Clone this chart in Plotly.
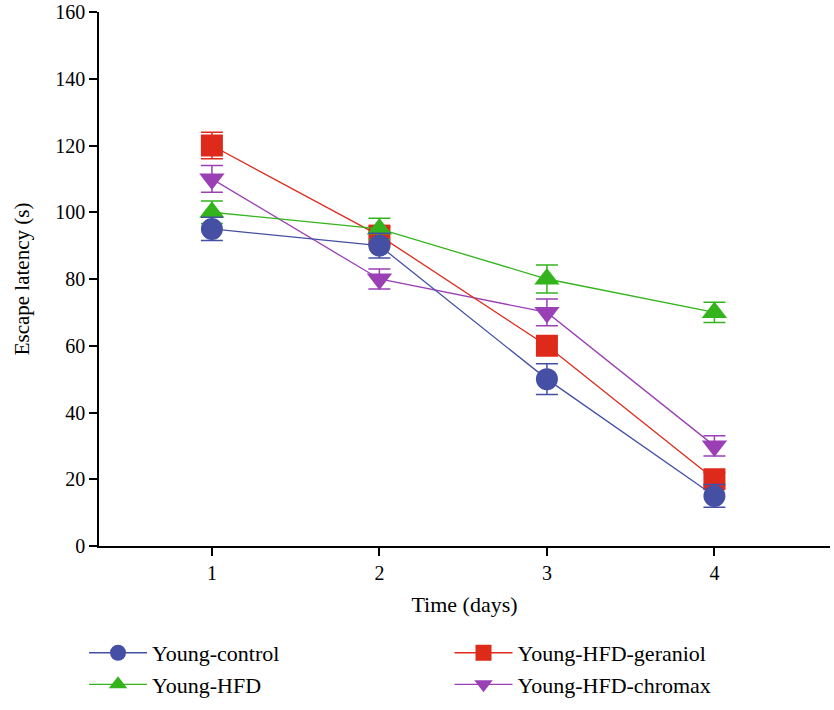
import plotly.graph_objects as go

days = [1, 2, 3, 4]

control = [95, 90, 50, 15]
control_err = [3.5, 3.7, 4.6, 3.4]
hfd = [100, 95, 80, 70]
hfd_err = [3.4, 3.2, 4.2, 3.0]
geraniol = [120, 93, 60, 20]
geraniol_err = [4.0, 2.5, 2.5, 2.0]
chromax = [110, 80, 70, 30]
chromax_err = [4.0, 3.0, 4.0, 3.0]

FONT = "Liberation Serif"

series = [
    # name, values, errors, color, symbol, legend, rank
    ("Young-HFD-chromax", chromax, chromax_err, "#9B3FB5", "triangle-down", "legend2", 4),
    ("Young-HFD-geraniol", geraniol, geraniol_err, "#DD2A1B", "square", "legend2", 3),
    ("Young-HFD", hfd, hfd_err, "#33B41C", "triangle-up", "legend", 2),
    ("Young-control", control, control_err, "#4550A5", "circle", "legend", 1),
]

fig = go.Figure()
for name, vals, errs, color, sym, leg, rank in series:
    fig.add_trace(go.Scatter(
        x=days, y=vals, name=name, mode="lines+markers",
        line=dict(color=color, width=1.3),
        marker=dict(symbol=sym, size=22, color=color, line=dict(width=0)),
        error_y=dict(type="data", array=errs, visible=True, color=color,
                     thickness=1.5, width=11),
        legend=leg, legendrank=rank,
    ))

fig.update_layout(
    width=834, height=710,
    paper_bgcolor="white", plot_bgcolor="white",
    margin=dict(l=99, r=4, t=12, b=158),
    font=dict(family=FONT, size=20, color="black"),
    showlegend=True,
    legend=dict(x=-0.0205, y=-0.161, xref="paper", yref="paper", xanchor="left", yanchor="top",
                font=dict(family=FONT, size=22), bgcolor="rgba(0,0,0,0)",
                itemwidth=58, tracegroupgap=0),
    legend2=dict(x=0.4795, y=-0.161, xref="paper", yref="paper", xanchor="left", yanchor="top",
                 font=dict(family=FONT, size=22), bgcolor="rgba(0,0,0,0)",
                 itemwidth=58, tracegroupgap=0),
)

fig.update_xaxes(
    range=[0.326, 4.69], tickvals=days, ticktext=[str(d) for d in days],
    showline=True, linecolor="black", linewidth=1.5,
    ticks="outside", ticklen=8, tickwidth=1.5, tickcolor="black",
    showgrid=False, zeroline=False, automargin=False, ticklabeloverflow="allow",
    title=dict(text="Time (days)", font=dict(family=FONT, size=22), standoff=14),
    tickfont=dict(family=FONT, size=20),
)
fig.update_yaxes(
    range=[0, 160], tickvals=[0, 20, 40, 60, 80, 100, 120, 140, 160],
    showline=True, linecolor="black", linewidth=1.5,
    ticks="outside", ticklen=8, tickwidth=1.5, tickcolor="black",
    showgrid=False, zeroline=False, automargin=False, ticklabeloverflow="allow",
    title=dict(text="Escape latency (s)", font=dict(family=FONT, size=21), standoff=20),
    tickfont=dict(family=FONT, size=20),
)

fig.write_html(
    "out.html",
    config={"displayModeBar": False, "responsive": False},
    post_script=(
        "document.documentElement.style.margin='0';"
        "document.documentElement.style.padding='0';"
        "document.documentElement.style.overflow='hidden';"
        "document.body.style.margin='0';"
        "document.body.style.padding='0';"
        "document.body.style.overflow='hidden';"
    ),
)
